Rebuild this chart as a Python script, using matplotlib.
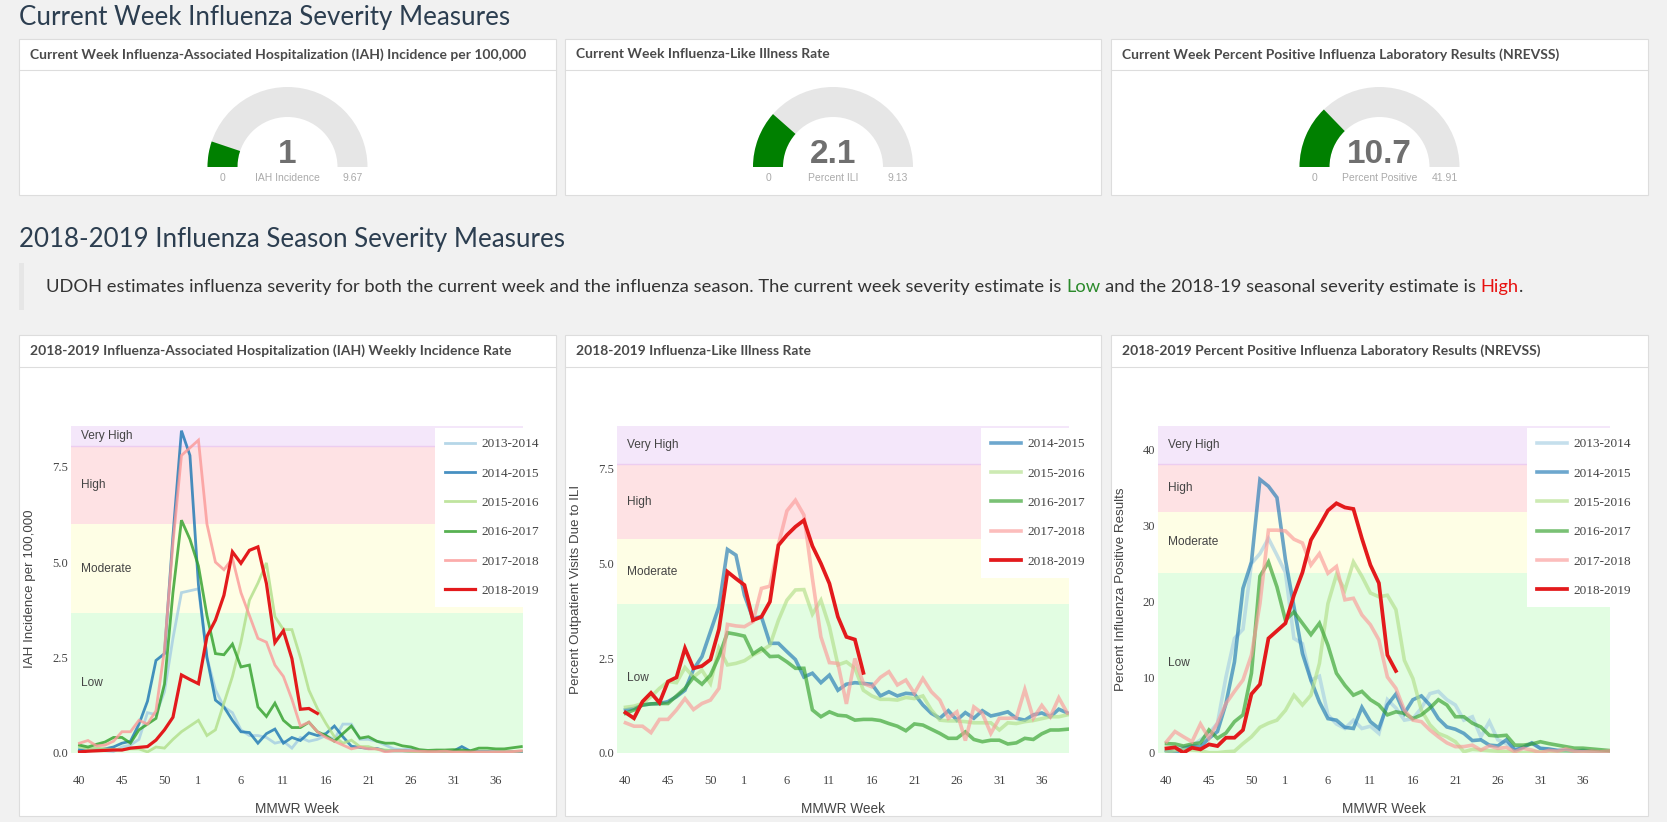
import matplotlib
matplotlib.use('Agg')
import matplotlib.pyplot as plt
from matplotlib.patches import Rectangle, Wedge
from matplotlib.lines import Line2D

W, H = 1667, 822

# ---- data ----
weeks = list(range(40, 54)) + list(range(1, 40))
tick_weeks = [40, 45, 50, 1, 6, 11, 16, 21, 26, 31, 36]
seasons = ['2013-2014', '2014-2015', '2015-2016', '2016-2017', '2017-2018', '2018-2019']
season_colors = ['#a6cee3', '#1f78b4', '#b2df8a', '#33a02c', '#fb9a99', '#e31a1c']
band_names = ['Low', 'Moderate', 'High', 'Very High']
band_colors = ['#e2fde2', '#fefee5', '#fee2e4', '#f4e7fa']

gauge_titles = ['Current Week Influenza-Associated Hospitalization (IAH) Incidence per 100,000',
                'Current Week Influenza-Like Illness Rate',
                'Current Week Percent Positive Influenza Laboratory Results (NREVSS)']
gauge_values = [1, 2.1, 10.7]
gauge_max = [9.67, 9.13, 41.91]
gauge_names = ['IAH Incidence', 'Percent ILI', 'Percent Positive']

# IAH incidence per 100,000
iah_1314 = [0.1, 0.1, 0.1, 0.05, 0.03, 0.15, 0.2, 0.35, 1.05, 1.0, 1.6, 3.0, 4.2, 4.25, 4.3, 2.5, 1.65, 1.2,
            1.05, 0.6, 0.45, 0.45, 0.4, 0.25, 0.3, 0.12, 0.4, 0.3, 0.35, 0.45, 0.35, 0.75, 0.75, 0.35, 0.35,
            0.3, 0.2, 0.1, 0.08, 0.1, 0.05, 0.02, 0.03, 0.03, 0.04, 0.04, 0.04, 0.02, 0.03, 0.02, 0.03, 0.03, 0.03]
iah_1415 = [0.07, 0.05, 0.06, 0.1, 0.15, 0.25, 0.3, 0.75, 1.35, 2.42, 2.6, 5.7, 8.45, 7.8, 4.4, 2.5, 1.38, 1.2,
            0.85, 0.55, 0.53, 0.25, 0.5, 0.62, 0.25, 0.4, 0.32, 0.52, 0.45, 0.5, 0.7, 0.42, 0.17, 0.14, 0.11,
            0.11, 0.05, 0.05, 0.05, 0.04, 0.04, 0.03, 0.03, 0.0, 0.04, 0.16, 0.04, 0.03, 0.03, 0.02, 0.02, 0.03, 0.03]
iah_1516 = [0.15, 0.1, 0.12, 0.1, 0.08, 0.08, 0.1, 0.1, 0.02, 0.15, 0.12, 0.35, 0.55, 0.7, 0.85, 0.45, 0.6, 1.3,
            2.0, 2.9, 4.0, 4.45, 4.98, 3.57, 3.23, 3.23, 2.5, 1.64, 1.16, 0.77, 0.42, 0.25, 0.33, 0.16, 0.16,
            0.09, 0.07, 0.05, 0.05, 0.03, 0.02, 0.03, 0.02, 0.02, 0.02, 0.02, 0.02, 0.02, 0.02, 0.02, 0.03, 0.03, 0.04]
iah_1617 = [0.2, 0.15, 0.22, 0.28, 0.4, 0.4, 0.25, 0.6, 0.75, 0.9, 1.8, 4.2, 6.1, 5.6, 4.9, 3.6, 2.6, 2.57,
            2.85, 2.25, 2.3, 1.2, 0.95, 1.3, 0.85, 0.66, 0.66, 0.8, 0.55, 0.45, 0.3, 0.5, 0.7, 0.38, 0.42,
            0.3, 0.25, 0.25, 0.18, 0.15, 0.08, 0.06, 0.07, 0.07, 0.08, 0.07, 0.05, 0.12, 0.12, 0.1, 0.1, 0.13, 0.16]
iah_1718 = [0.25, 0.32, 0.18, 0.2, 0.3, 0.55, 0.55, 0.85, 0.75, 1.1, 2.7, 5.5, 7.8, 8.0, 8.2, 6.0, 5.0, 4.8,
            5.1, 4.2, 3.6, 3.0, 2.9, 2.3, 2.0, 1.4, 0.7, 0.8, 0.55, 0.4, 0.3, 0.2, 0.1, 0.15, 0.1,
            0.1, 0.02, 0.05, 0.05, 0.05, 0.04, 0.03, 0.03, 0.04, 0.02, 0.02, 0.02, 0.02, 0.02, 0.02, 0.02, 0.03, 0.05]
iah_1819 = [0.02, 0.04, 0.05, 0.06, 0.07, 0.07, 0.12, 0.14, 0.16, 0.33, 0.6, 0.93, 2.04, 1.92, 1.81, 3.05,
            3.48, 4.13, 5.27, 4.97, 5.31, 5.4, 4.44, 2.89, 3.2, 2.47, 1.14, 1.16, 1.03]
iah_levels = [0, 3.67, 5.99, 8.05, 8.58]

# percent ILI
ili_1415 = [1.13, 1.17, 1.26, 1.29, 1.3, 1.35, 1.48, 1.65, 2.2, 2.54, 3.2, 3.86, 5.37, 5.22, 4.16, 3.55, 3.59,
            2.89, 2.89, 2.67, 2.46, 2.0, 2.1, 1.85, 2.05, 1.65, 1.81, 1.85, 1.83, 1.81, 1.5, 1.61, 1.5, 1.57,
            1.55, 1.26, 1.04, 0.91, 1.11, 0.86, 1.06, 0.91, 1.11, 0.97, 1.02, 1.08, 0.91, 0.86, 1.0, 1.05, 0.95, 1.15, 1.05]
ili_1516 = [1.2, 1.23, 1.3, 1.48, 1.7, 1.88, 1.85, 2.25, 2.0, 2.18, 1.83, 2.76, 2.32, 2.36, 2.43, 2.58, 2.69,
            2.84, 3.5, 4.03, 4.3, 4.31, 3.66, 4.03, 3.33, 2.32, 2.4, 2.23, 1.65, 1.5, 1.41, 1.41, 1.39, 1.46,
            1.43, 1.5, 1.13, 0.86, 0.84, 0.84, 0.82, 0.79, 0.79, 0.79, 0.6, 0.79, 0.77, 0.82, 0.85, 0.9, 0.95, 0.95, 1.0]
ili_1617 = [1.04, 1.13, 1.26, 1.29, 1.3, 1.3, 1.5, 1.7, 1.99, 1.81, 2.05, 2.54, 3.17, 3.13, 3.08, 2.61, 2.76,
            2.54, 2.55, 2.4, 2.23, 2.23, 1.13, 0.95, 1.08, 0.99, 0.97, 0.86, 0.88, 0.88, 0.85, 0.77, 0.7, 0.58,
            0.76, 0.73, 0.62, 0.51, 0.38, 0.38, 0.55, 0.35, 0.29, 0.33, 0.33, 0.23, 0.26, 0.38, 0.35, 0.5, 0.6, 0.6, 0.62]
ili_1718 = [0.79, 0.7, 0.7, 0.53, 0.88, 0.88, 1.13, 1.43, 1.14, 1.3, 1.39, 1.7, 3.39, 3.35, 3.33, 3.46, 4.34,
            4.4, 5.5, 6.39, 6.67, 6.28, 4.6, 3.06, 2.38, 2.36, 1.29, 2.49, 1.83, 1.74, 1.99, 2.14, 1.79, 1.92,
            1.57, 1.96, 1.61, 1.39, 0.91, 1.08, 0.32, 1.21, 1.04, 0.51, 0.91, 0.91, 0.92, 1.67, 0.91, 1.25, 0.95, 1.45, 1.05]
ili_1819 = [1.06, 0.91, 1.35, 1.58, 1.32, 1.88, 1.99, 2.76, 2.23, 2.29, 2.46, 3.26, 4.78, 4.6, 4.43, 3.5, 3.59,
            3.99, 5.48, 5.75, 5.97, 6.14, 5.46, 5.0, 4.47, 3.59, 3.06, 2.99, 2.11]
ili_levels = [0, 3.93, 5.64, 7.62, 8.64]

# percent positive (NREVSS)
pos_1314 = [0.26, 0.57, 0.8, 0.88, 1.7, 2.55, 3.9, 10.0, 15.1, 16.3, 25.0, 26.3, 28.3, 26.1, 23.8, 15.1, 14.4,
            9.6, 10.1, 5.0, 3.8, 3.2, 4.3, 3.2, 3.5, 2.55, 7.0, 5.9, 4.3, 4.5, 5.9, 7.8, 8.1, 7.0, 6.3, 4.3,
            4.75, 2.1, 4.1, 1.7, 1.2, 0.57, 0.8, 1.2, 0.6, 0.4, 0.3, 0.2, 0.2, 0.1, 0.1, 0.1, 0.1]
pos_1415 = [0.26, 0.0, 0.57, 0.88, 0.8, 1.9, 2.8, 6.5, 12.0, 21.7, 25.2, 36.1, 35.2, 33.7, 25.5, 19.3, 13.1,
            9.6, 6.7, 4.5, 4.3, 3.35, 3.2, 6.0, 4.1, 3.2, 6.3, 7.75, 5.2, 7.0, 7.5, 6.3, 4.5, 3.4, 3.1, 2.55,
            1.6, 1.7, 1.0, 0.9, 1.7, 0.35, 0.7, 1.3, 0.57, 0.5, 0.3, 0.3, 0.2, 0.3, 0.2, 0.1, 0.1]
pos_1516 = [0.13, 0.26, 0.44, 0.35, 0.26, 0.0, 0.0, 0.13, 0.2, 1.2, 2.1, 3.35, 3.9, 4.3, 5.6, 7.6, 6.3, 7.6,
            11.8, 19.7, 23.5, 21.5, 25.2, 23.3, 21.1, 20.6, 20.8, 18.9, 12.2, 9.8, 5.6, 3.7, 2.55, 2.1, 1.45,
            0.13, 0.44, 0.35, 0.26, 0.2, 0.13, 0.05, 0.0, 0.13, 0.13, 0.1, 0.1, 0.1, 0.05, 0.05, 0.1, 0.1, 0.05]
pos_1617 = [1.2, 1.15, 0.88, 1.15, 1.3, 3.0, 1.9, 2.6, 4.1, 5.0, 10.5, 23.3, 25.2, 21.9, 17.5, 18.6, 17.1,
            15.6, 17.1, 14.2, 10.5, 8.9, 7.6, 8.1, 7.0, 6.3, 5.0, 5.4, 5.2, 4.5, 5.0, 5.9, 7.0, 6.3, 4.75,
            4.75, 3.9, 3.4, 2.3, 2.2, 2.3, 1.0, 1.0, 1.15, 1.45, 1.2, 1.0, 0.8, 0.6, 0.6, 0.5, 0.4, 0.3]
pos_1718 = [1.45, 2.8, 2.1, 1.45, 3.8, 1.9, 3.9, 6.5, 8.1, 9.6, 12.9, 19.7, 29.4, 29.4, 29.3, 28.2, 27.7,
            24.8, 26.3, 23.7, 24.6, 20.2, 20.4, 18.2, 16.9, 14.9, 10.0, 8.5, 5.6, 4.3, 4.1, 3.0, 2.1, 1.3,
            0.8, 0.8, 1.0, 0.35, 0.9, 0.57, 0.7, 0.13, 0.57, 0.35, 0.0, 0.3, 0.2, 0.5, 0.2, 0.1, 0.2, 0.1, 0.2]
pos_1819 = [0.57, 0.7, 0.0, 0.66, 0.44, 1.1, 0.88, 1.98, 1.98, 3.0, 7.75, 9.03, 15.1, 16.1, 17.1, 20.8,
            23.8, 28.1, 30.0, 32.0, 32.95, 32.4, 32.2, 28.3, 24.8, 22.4, 12.9, 10.8]
pos_levels = [0, 23.8, 31.85, 38.1, 43.2]

fig = plt.figure(figsize=(W / 100, H / 100), dpi=100, facecolor='#f1f1f1')


def px_axes(x0, y0, x1, y1):
    return fig.add_axes([x0 / W, 1 - y1 / H, (x1 - x0) / W, (y1 - y0) / H])


def ftext(x, y, s, **kw):
    return fig.text(x / W, 1 - y / H, s, **kw)


def card(x0, y0, x1, y1, head, title):
    fig.add_artist(Rectangle((x0 / W, 1 - y1 / H), (x1 - x0) / W, (y1 - y0) / H, transform=fig.transFigure,
                             facecolor='white', edgecolor='#dddddd', lw=0.8, zorder=0))
    fig.add_artist(Line2D([x0 / W, x1 / W], [1 - head / H] * 2, transform=fig.transFigure,
                          color='#dddddd', lw=0.8, zorder=1))
    ftext(x0 + 11, (y0 + head) / 2, title, family='Lato', weight='bold', fontsize=10, color='#4a4a4a',
          va='center')


def draw_runs(x0, y, runs, **kw):
    r = fig.canvas.get_renderer()

    def width(s):
        t = fig.text(0, 0, s, **kw)
        w = t.get_window_extent(r).width
        t.remove()
        return w
    text = ''
    for piece, color in runs:
        text += piece
        p = piece.strip()
        ftext(x0 + width(text.rstrip()) - width(p), y, p, color=color, va='center', **kw)


# ---- headings ----
ftext(19, 17, 'Current Week Influenza Severity Measures', family='Lato', fontsize=18.6, color='#2c3e50',
      va='center')
ftext(19, 240, '2018-2019 Influenza Season Severity Measures', family='Lato', fontsize=18.6, color='#2c3e50',
      va='center')
fig.add_artist(Rectangle((19 / W, 1 - 310 / H), 5 / W, 47 / H, transform=fig.transFigure,
                         facecolor='#e6e6e6', edgecolor='none'))
draw_runs(46, 287, [
    ('UDOH estimates influenza severity for both the current week and the influenza season. '
     'The current week severity estimate is ', '#333333'),
    ('Low', '#2b8a2b'),
    (' and the 2018-19 seasonal severity estimate is ', '#333333'),
    ('High', '#e8110f'),
    ('.', '#333333')], family='Lato', fontsize=13.2)

card_x = [(19, 556), (565, 1101), (1111, 1648)]

# ---- gauges ----
for (x0, x1), title, val, vmax, name in zip(card_x, gauge_titles, gauge_values, gauge_max, gauge_names):
    card(x0, 39, x1, 195, 70, title)
    cx = (x0 + x1) / 2
    gax = px_axes(cx - 110, 80, cx + 110, 190)
    gax.set_xlim(-110, 110)
    gax.set_ylim(-23, 87)
    gax.axis('off')
    gax.add_patch(Wedge((0, 0), 80, 0, 180, width=30, facecolor='#e6e6e6', edgecolor='none'))
    gax.add_patch(Wedge((0, 0), 80, 180 - 180 * val / vmax, 180, width=30, facecolor='#008000',
                        edgecolor='none'))
    gax.text(0, 13, f'{val:g}', ha='center', va='center', fontsize=24, weight='bold', color='#6f6f6f',
             family='Liberation Sans')
    gax.text(-65, -11, '0', ha='center', va='center', fontsize=7.5, color='#aaaaaa', family='Liberation Sans')
    gax.text(0, -11, name, ha='center', va='center', fontsize=7.5, color='#aaaaaa', family='Liberation Sans')
    gax.text(65, -11, f'{vmax:g}', ha='center', va='center', fontsize=7.5, color='#aaaaaa',
             family='Liberation Sans')

# ---- season charts ----
chart_titles = ['2018-2019 Influenza-Associated Hospitalization (IAH) Weekly Incidence Rate',
                '2018-2019 Influenza-Like Illness Rate',
                '2018-2019 Percent Positive Influenza Laboratory Results (NREVSS)']
charts = [
    dict(series=[iah_1314, iah_1415, iah_1516, iah_1617, iah_1718, iah_1819], first=0, levels=iah_levels,
         yticks=[0, 2.5, 5, 7.5], fmt='{:.1f}', ylabel='IAH Incidence per 100,000', ylab_x=36,
         alpha=0.82, lw=2.0, rlw=2.3),
    dict(series=[ili_1415, ili_1516, ili_1617, ili_1718, ili_1819], first=1, levels=ili_levels,
         yticks=[0, 2.5, 5, 7.5], fmt='{:.1f}', ylabel='Percent Outpatient Visits Due to ILI', ylab_x=582,
         alpha=0.65, lw=2.6, rlw=2.7),
    dict(series=[pos_1314, pos_1415, pos_1516, pos_1617, pos_1718, pos_1819], first=0, levels=pos_levels,
         yticks=[0, 10, 20, 30, 40], fmt='{:g}', ylabel='Percent Influenza Positive Results', ylab_x=1127,
         alpha=0.65, lw=2.6, rlw=2.7),
]
plot_left = [71, 617, 1158]
legend_left = [435, 981, 1527]
tick_pos = [weeks.index(w) for w in tick_weeks]

for (x0, x1), title, ch, pl, lg in zip(card_x, chart_titles, charts, plot_left, legend_left):
    card(x0, 335, x1, 816, 367, title)
    ax = px_axes(pl, 425.7, pl + 452, 752.7)
    lv = ch['levels']
    for i, (name, col) in enumerate(zip(band_names, band_colors)):
        ax.axhspan(lv[i], lv[i + 1], facecolor=col, edgecolor='none', zorder=0)
        ax.text(0.2, (lv[i] + lv[i + 1]) / 2, name, ha='left', va='center', fontsize=8.6, color='#444444',
                family='Liberation Sans', zorder=1)
    ax.axhline(lv[3], color='#eccdf0', lw=1.0, zorder=0.5)
    handles = []
    for k, ys in enumerate(ch['series']):
        s = ch['first'] + k
        red = s == 5
        ln, = ax.plot(range(len(ys)), ys, color=season_colors[s], lw=ch['rlw'] if red else ch['lw'],
                      alpha=1.0 if red else ch['alpha'], label=seasons[s], zorder=3 + k,
                      solid_joinstyle='miter')
        handles.append(ln)
    ax.set_xlim(-1, 52.2)
    ax.set_ylim(lv[0], lv[4])
    for sp in ax.spines.values():
        sp.set_visible(False)
    ax.set_yticks(ch['yticks'])
    ax.set_yticklabels([ch['fmt'].format(v) for v in ch['yticks']])
    ax.set_xticks(tick_pos)
    ax.set_xticklabels([str(w) for w in tick_weeks])
    ax.tick_params(length=0, labelsize=9, labelcolor='#444444')
    ax.tick_params(axis='x', pad=16)
    ax.tick_params(axis='y', pad=2)
    for t in ax.get_xticklabels() + ax.get_yticklabels():
        t.set_family('Liberation Serif')
    ax.set_xlabel('MMWR Week', fontsize=9.8, color='#444444', family='Liberation Sans')
    ax.xaxis.set_label_coords(0.5, -0.151)
    ax.set_ylabel(ch['ylabel'], fontsize=9.6, color='#444444', family='Liberation Sans')
    ax.yaxis.set_label_coords((ch['ylab_x'] - pl) / 452, 0.5)
    leg = ax.legend(handles=handles, loc='upper left', bbox_to_anchor=(lg / W, 1 - 428 / H),
                    bbox_transform=fig.transFigure, borderaxespad=0, frameon=True, fancybox=False,
                    facecolor='white', edgecolor='none', framealpha=1, handlelength=2.3, handletextpad=0.45,
                    labelspacing=1.3, borderpad=0.75, prop={'family': 'Liberation Serif', 'size': 9.5})
    for t in leg.get_texts():
        t.set_color('#444444')
    leg.set_zorder(10)

fig.savefig('out.png', dpi=100, facecolor=fig.get_facecolor())
